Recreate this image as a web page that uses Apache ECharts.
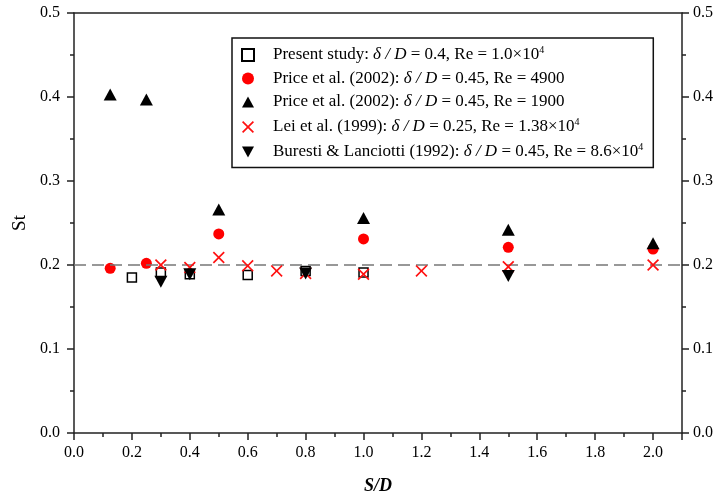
<!DOCTYPE html>
<html>
<head>
<meta charset="utf-8">
<script src="https://cdn.jsdelivr.net/npm/echarts@6/dist/echarts.min.js"></script>
<style>html,body{margin:0;padding:0;background:#fff}#c{width:717px;height:500px}</style>
</head>
<body>
<div id="c"></div>
<script>
// ---- data ----
const presentX = [0.2, 0.3, 0.4, 0.6, 0.8, 1.0];
const presentY = [0.185, 0.191, 0.189, 0.188, 0.193, 0.191];
const price4900X = [0.125, 0.25, 0.5, 1.0, 1.5, 2.0];
const price4900Y = [0.196, 0.202, 0.237, 0.231, 0.221, 0.219];
const price1900X = [0.125, 0.25, 0.5, 1.0, 1.5, 2.0];
const price1900Y = [0.403, 0.397, 0.266, 0.256, 0.242, 0.226];
const leiX = [0.3, 0.4, 0.5, 0.6, 0.7, 0.8, 1.0, 1.2, 1.5, 2.0];
const leiY = [0.200, 0.197, 0.209, 0.199, 0.193, 0.190, 0.189, 0.193, 0.198, 0.200];
const burestiX = [0.3, 0.4, 0.8, 1.5];
const burestiY = [0.180, 0.189, 0.190, 0.187];
const refLine = 0.2;
const seriesNames = ['present', 'price4900', 'price1900', 'lei', 'buresti'];
const legendSources = ['Present study:', 'Price et al. (2002):', 'Price et al. (2002):', 'Lei et al. (1999):', 'Buresti & Lanciotti (1992):'];
const legendDelta = ['0.4', '0.45', '0.45', '0.25', '0.45'];
const legendRe = ['1.0×10', '4900', '1900', '1.38×10', '8.6×10'];
const legendExp = ['4', '', '', '4', '4'];

const zip = (xs, ys) => xs.map((x, i) => [x, ys[i]]);
const serif = 'Liberation Serif';
const downTri = 'path://M0,0 L10,0 L5,9 Z';
const upTri = 'path://M5,0 L10,9 L0,9 Z';
const cross = 'path://M0,1 L1,0 L5,4 L9,0 L10,1 L6,5 L10,9 L9,10 L5,6 L1,10 L0,9 L4,5 Z';

const legendText = {};
seriesNames.forEach((n, i) => {
  let s = '{n|' + legendSources[i] + ' }{i|δ / D}{n| = ' + legendDelta[i] + ', Re = ' + legendRe[i] + '}';
  if (legendExp[i]) s += '{s|' + legendExp[i] + '}';
  legendText[n] = s;
});

const chart = echarts.init(document.getElementById('c'));
const axisLineStyle = { color: '#222', width: 1.5 };
chart.setOption({
  animation: false,
  backgroundColor: '#fff',
  grid: { left: 74, right: 35, top: 13, bottom: 62 },
  legend: {
    orient: 'vertical', left: 232, top: 38,
    itemWidth: 12, itemHeight: 12, itemGap: 6.5,
    borderColor: '#111', borderWidth: 1.5,
    padding: [7, 10, 7, 9],
    selectedMode: false,
    data: seriesNames,
    formatter: n => legendText[n],
    textStyle: {
      fontFamily: serif, fontSize: 17, color: '#000', padding: [0, 0, 0, 14],
      rich: {
        n: { fontFamily: serif, fontSize: 17, color: '#000' },
        i: { fontFamily: serif, fontSize: 17, fontStyle: 'italic', color: '#000' },
        s: { fontFamily: serif, fontSize: 10, color: '#000', padding: [0, 0, 10, 0] }
      }
    }
  },
  xAxis: [{
    type: 'value', min: 0, max: 2.1, interval: 0.2,
    name: 'S/D', nameLocation: 'middle', nameGap: 44,
    nameTextStyle: { fontFamily: serif, fontSize: 18, fontWeight: 'bold', fontStyle: 'italic', color: '#000' },
    axisLine: { show: true, onZero: false, lineStyle: axisLineStyle },
    axisTick: { show: true, length: 7, lineStyle: axisLineStyle },
    minorTick: { show: true, splitNumber: 2, length: 4, lineStyle: axisLineStyle },
    splitLine: { show: false },
    axisLabel: { fontFamily: serif, fontSize: 16, color: '#000', margin: 12, showMaxLabel: false,
      formatter: v => (v > 2.05 ? '' : v.toFixed(1)) }
  }, {
    type: 'value', position: 'top', min: 0, max: 2.1,
    axisLine: { show: true, onZero: false, lineStyle: axisLineStyle },
    axisTick: { show: false }, axisLabel: { show: false }, splitLine: { show: false }
  }],
  yAxis: [{
    type: 'value', min: 0, max: 0.5, interval: 0.1,
    name: 'St', nameLocation: 'middle', nameGap: 41,
    nameTextStyle: { fontFamily: serif, fontSize: 19, color: '#000' },
    axisLine: { show: true, onZero: false, lineStyle: axisLineStyle },
    axisTick: { show: true, length: 7, lineStyle: axisLineStyle },
    minorTick: { show: true, splitNumber: 2, length: 4, lineStyle: axisLineStyle },
    splitLine: { show: false },
    axisLabel: { fontFamily: serif, fontSize: 16, color: '#000', margin: 14, formatter: v => v.toFixed(1) }
  }, {
    type: 'value', position: 'right', min: 0, max: 0.5, interval: 0.1,
    axisLine: { show: true, onZero: false, lineStyle: axisLineStyle },
    axisTick: { show: true, length: 7, lineStyle: axisLineStyle },
    minorTick: { show: true, splitNumber: 2, length: 4, lineStyle: axisLineStyle },
    splitLine: { show: false },
    axisLabel: { fontFamily: serif, fontSize: 16, color: '#000', margin: 11, formatter: v => v.toFixed(1) }
  }],
  series: [
    { name: 'present', type: 'scatter', data: zip(presentX, presentY), symbol: 'rect', symbolSize: 9,
      itemStyle: { color: '#fff', borderColor: '#000', borderWidth: 1.5, opacity: 1 }, z: 2,
      markLine: { silent: true, symbol: ['none', 'none'], label: { show: false },
        lineStyle: { color: '#777', type: [12, 6], width: 1.5 }, data: [{ yAxis: refLine }] } },
    { name: 'price4900', type: 'scatter', data: zip(price4900X, price4900Y), symbol: 'circle', symbolSize: 11,
      itemStyle: { color: '#ff0000', opacity: 1 }, z: 3 },
    { name: 'price1900', type: 'scatter', data: zip(price1900X, price1900Y), symbol: upTri, symbolSize: [13, 12],
      itemStyle: { color: '#000', opacity: 1 }, z: 4 },
    { name: 'lei', type: 'scatter', data: zip(leiX, leiY), symbol: cross, symbolSize: 12,
      itemStyle: { color: '#ff1010', opacity: 1 }, z: 5 },
    { name: 'buresti', type: 'scatter', data: zip(burestiX, burestiY), symbol: downTri, symbolSize: [13, 12],
      itemStyle: { color: '#000', opacity: 1 }, z: 6 }
  ]
});
</script>
</body>
</html>
